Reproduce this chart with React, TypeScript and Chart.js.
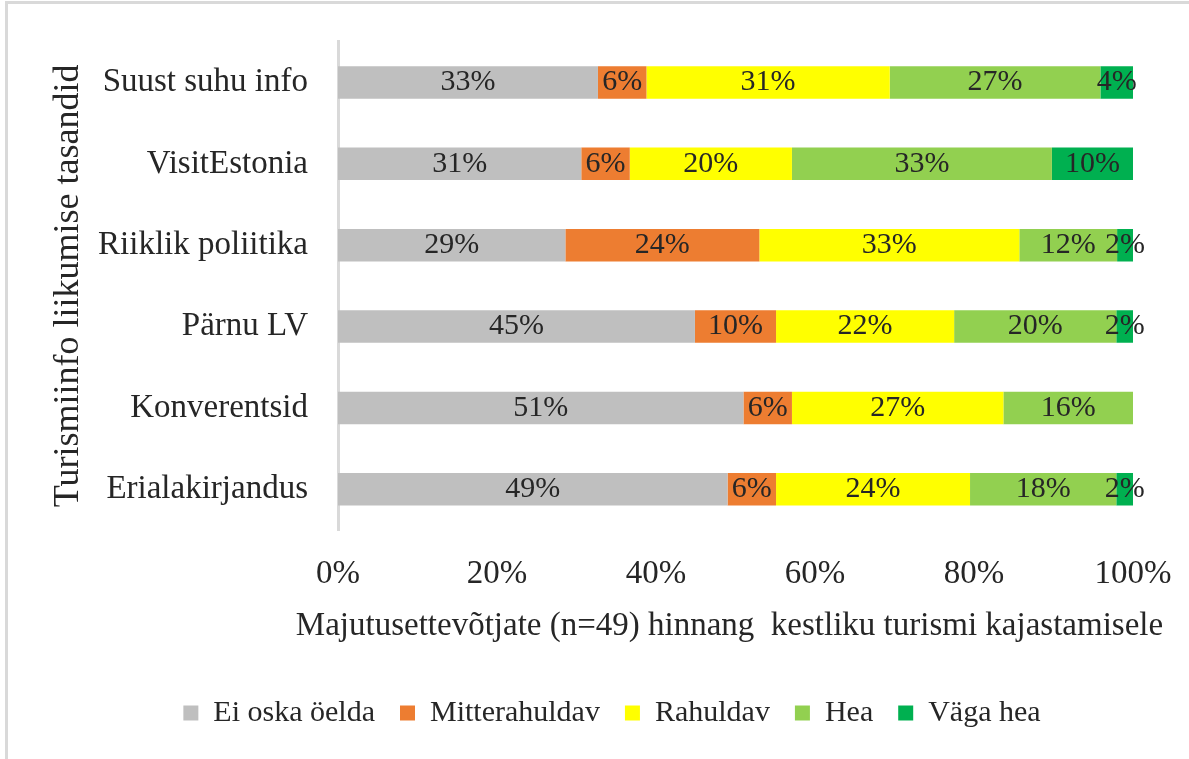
import React, { useEffect, useRef } from "react";
import { Chart, registerables } from "chart.js";

Chart.register(...registerables);

const categories = [
  "Suust suhu info",
  "VisitEstonia",
  "Riiklik poliitika",
  "Pärnu LV",
  "Konverentsid",
  "Erialakirjandus",
];

const seriesNames = ["Ei oska öelda", "Mitterahuldav", "Rahuldav", "Hea", "Väga hea"];
const seriesColors = ["#BFBFBF", "#ED7D31", "#FFFF00", "#92D050", "#00B050"];

const eiOskaOelda = [32.7, 30.6, 28.6, 44.9, 51.0, 49.0];
const mitterahuldav = [6.1, 6.1, 24.4, 10.2, 6.1, 6.1];
const rahuldav = [30.6, 20.4, 32.7, 22.4, 26.6, 24.4];
const hea = [26.5, 32.7, 12.3, 20.4, 16.3, 18.4];
const vagaHea = [4.1, 10.2, 2.0, 2.1, 0, 2.1];

const xTicks = [0, 20, 40, 60, 80, 100];

const xTitle = "Majutusettevõtjate (n=49) hinnang  kestliku turismi kajastamisele";
const yTitle = "Turismiinfo liikumise tasandid";

const SERIF = "'Liberation Serif', 'Times New Roman', serif";
const TEXT = "#262626";

const dataLabelPlugin = {
  id: "dataLabels",
  afterDatasetsDraw(chart: any) {
    const ctx = chart.ctx;
    ctx.save();
    ctx.font = `30px ${SERIF}`;
    ctx.fillStyle = TEXT;
    ctx.textAlign = "center";
    ctx.textBaseline = "middle";
    chart.data.datasets.forEach((ds: any, di: number) => {
      const meta = chart.getDatasetMeta(di);
      meta.data.forEach((el: any, i: number) => {
        const v = ds.data[i];
        if (!v) return;
        const p = el.getCenterPoint();
        ctx.fillText(Math.round(v) + "%", p.x, p.y);
      });
    });
    ctx.restore();
  },
};

// x-axis title drawn without Chart.js's maxWidth squeeze
const xTitlePlugin = {
  id: "xTitle",
  afterDraw(chart: any) {
    const ctx = chart.ctx;
    const xs = chart.scales.x;
    const area = chart.chartArea;
    ctx.save();
    ctx.font = `33px ${SERIF}`;
    ctx.fillStyle = TEXT;
    ctx.textAlign = "center";
    ctx.textBaseline = "middle";
    ctx.fillText(xTitle, (area.left + area.right) / 2 - 6, xs.bottom - 47);
    ctx.restore();
  },
};

export default function App() {
  const ref = useRef<HTMLCanvasElement | null>(null);

  useEffect(() => {
    if (!ref.current) return;
    const values = [eiOskaOelda, mitterahuldav, rahuldav, hea, vagaHea];
    const chart = new Chart(ref.current, {
      type: "bar",
      data: {
        labels: categories,
        datasets: seriesNames.map((name, i) => ({
          label: name,
          data: values[i],
          backgroundColor: seriesColors[i],
          borderWidth: 0,
          barPercentage: 0.4,
          categoryPercentage: 1,
        })),
      },
      options: {
        indexAxis: "y",
        animation: false,
        responsive: false,
        maintainAspectRatio: false,
        layout: { padding: { left: 91, right: 56, top: 33, bottom: 21 } },
        plugins: {
          legend: {
            position: "bottom",
            labels: {
              boxWidth: 15,
              boxHeight: 15,
              padding: 25,
              color: TEXT,
              font: { family: SERIF, size: 30 },
            },
          },
          tooltip: { enabled: false },
        },
        scales: {
          x: {
            stacked: true,
            min: 0,
            max: 100,
            afterBuildTicks: (scale: any) => {
              scale.ticks = xTicks.map((v) => ({ value: v }));
            },
            afterFit: (scale: any) => {
              scale.height = 143;
            },
            grid: { display: false },
            border: { display: false },
            ticks: {
              padding: 17,
              color: TEXT,
              font: { family: SERIF, size: 33 },
              callback: (v: any) => v + "%",
            },
            title: { display: false },
          },
          y: {
            stacked: true,
            afterFit: (scale: any) => {
              scale.width = 247;
            },
            grid: { display: false },
            border: { display: true, color: "#D9D9D9", width: 3 },
            ticks: {
              padding: 22,
              color: TEXT,
              font: { family: SERIF, size: 33 },
            },
            title: {
              display: true,
              text: yTitle,
              color: TEXT,
              font: { family: SERIF, size: 36 },
              padding: { top: -44, bottom: 0 },
            },
          },
        },
      },
      plugins: [dataLabelPlugin, xTitlePlugin],
    });
    return () => chart.destroy();
  }, []);

  return (
    <div
      style={{
        position: "absolute",
        left: 0,
        top: 0,
        width: 1189,
        height: 759,
        overflow: "hidden",
        background: "#fff",
      }}
    >
      <div
        style={{
          position: "absolute",
          left: 5,
          top: 1,
          width: 2000,
          height: 2000,
          borderLeft: "3px solid #D9D9D9",
          borderTop: "3px solid #D9D9D9",
        }}
      />
      <canvas
        ref={ref}
        width={1189}
        height={759}
        style={{ position: "absolute", left: 0, top: 0, width: 1189, height: 759 }}
      />
    </div>
  );
}
